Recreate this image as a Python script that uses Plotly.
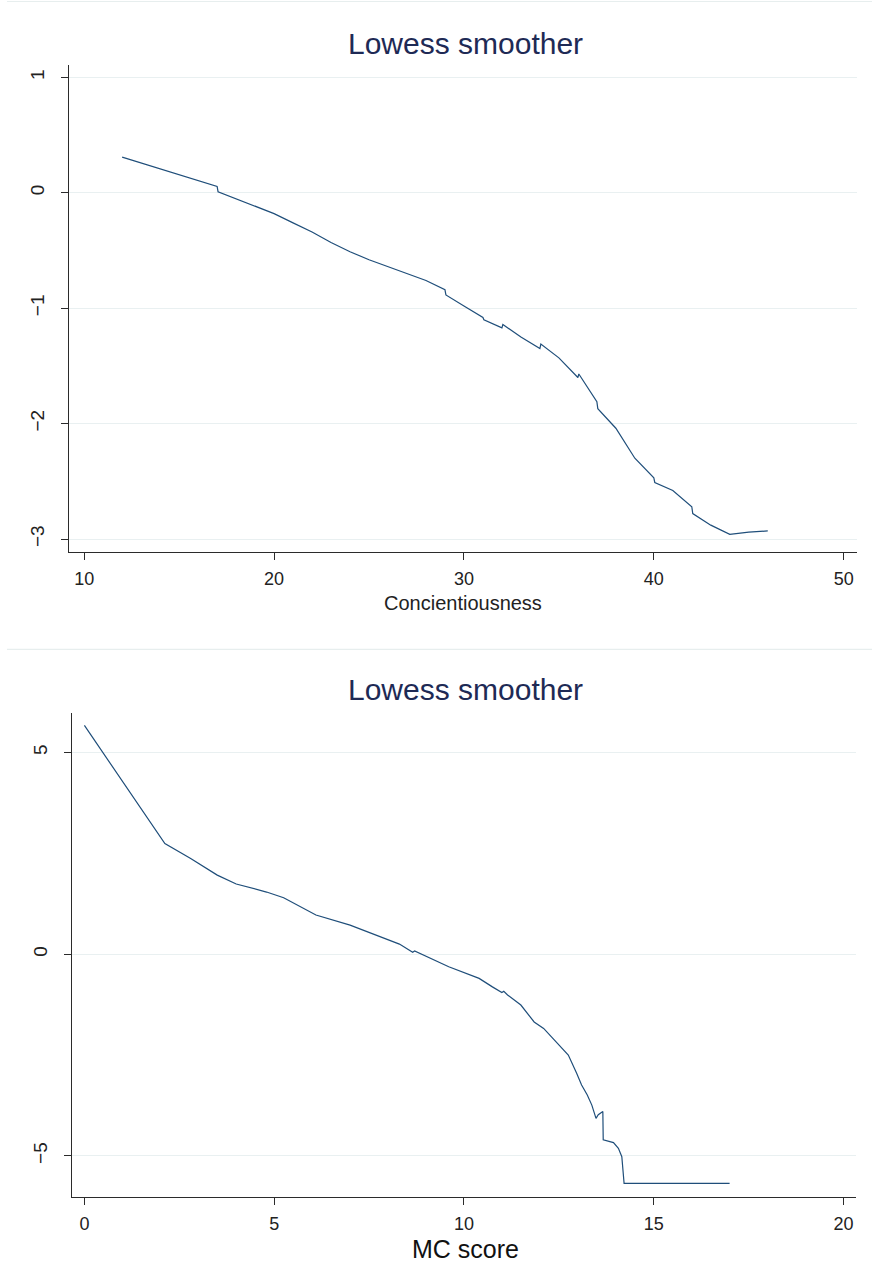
import plotly.graph_objects as go

# Lowess smoother of the outcome on Concientiousness
consc_x = [12.0, 13.0, 14.0, 15.0, 16.0, 17.0, 17.05, 18.0, 19.0, 20.0, 21.0, 22.0,
           23.0, 24.0, 25.0, 26.0, 27.0, 28.0, 29.0, 29.05, 30.0, 31.0, 31.05, 32.0,
           32.05, 33.0, 34.0, 34.05, 35.0, 36.0, 36.05, 37.0, 37.05, 38.0, 39.0,
           40.0, 40.05, 41.0, 42.0, 42.05, 43.0, 44.0, 45.0, 46.0]
consc_y = [0.31, 0.26, 0.21, 0.16, 0.11, 0.055, 0.01, -0.05, -0.11, -0.18, -0.26, -0.34,
           -0.43, -0.51, -0.58, -0.64, -0.70, -0.76, -0.84, -0.885, -0.98, -1.08, -1.10, -1.17,
           -1.14, -1.25, -1.35, -1.31, -1.43, -1.60, -1.57, -1.81, -1.87, -2.04, -2.30,
           -2.47, -2.51, -2.58, -2.72, -2.78, -2.88, -2.96, -2.94, -2.93]

# Lowess smoother of the outcome on MC score
mc_x = [0.0, 1.0, 2.12, 2.8, 3.5, 4.0, 4.8, 5.25, 6.1, 7.0, 7.9, 8.3, 8.65, 8.7,
        9.6, 10.0, 10.4, 10.75, 11.0, 11.05, 11.15, 11.5, 11.85, 12.1, 12.45, 12.75,
        12.97, 13.1, 13.25, 13.37, 13.48, 13.54, 13.66, 13.67, 13.94, 14.07, 14.16,
        14.22, 17.0]
mc_y = [5.67, 4.30, 2.74, 2.37, 1.96, 1.74, 1.54, 1.40, 0.97, 0.72, 0.39, 0.25, 0.05, 0.08,
        -0.31, -0.46, -0.60, -0.81, -0.95, -0.92, -1.01, -1.26, -1.68, -1.84, -2.21, -2.50,
        -2.95, -3.24, -3.49, -3.74, -4.07, -3.98, -3.90, -4.60, -4.67, -4.81, -5.02,
        -5.68, -5.68]

top_xticks = [10, 20, 30, 40, 50]
top_yticks = [-3, -2, -1, 0, 1]
bot_xticks = [0, 5, 10, 15, 20]
bot_yticks = [-5, 0, 5]

W, H = 872, 1283
LINE = "#1f4e7a"
TITLE = "#1e2a55"
GRID = "#e9f0f1"
FONT = "Liberation Sans, Arial, sans-serif"


def py(px):
    """Convert a pixel row (from top) to paper y."""
    return 1 - px / H


fig = go.Figure()
fig.add_trace(go.Scatter(x=consc_x, y=consc_y, mode="lines",
                         line=dict(color=LINE, width=1.2), xaxis="x", yaxis="y",
                         showlegend=False, hoverinfo="skip"))
fig.add_trace(go.Scatter(x=mc_x, y=mc_y, mode="lines",
                         line=dict(color=LINE, width=1.2), xaxis="x2", yaxis="y2",
                         showlegend=False, hoverinfo="skip"))

xcommon = dict(showgrid=False, zeroline=False, showline=True, linecolor="#2b2b2b",
               linewidth=1.4, ticks="outside", ticklen=7, tickwidth=1.2,
               tickcolor="#2b2b2b", tickfont=dict(family=FONT, size=18, color="#222"),
               ticklabelstandoff=3)
ycommon = dict(showgrid=True, gridcolor=GRID, gridwidth=1, zeroline=False,
               showline=True, linecolor="#2b2b2b", linewidth=1.4, ticks="outside",
               ticklen=7, tickwidth=1.2, tickcolor="#2b2b2b", tickangle=-90,
               tickfont=dict(family=FONT, size=19, color="#222"),
               ticklabelstandoff=9)

fig.update_layout(
    width=W, height=H,
    margin=dict(l=0, r=0, t=0, b=0),
    paper_bgcolor="white", plot_bgcolor="white",
    xaxis=dict(xcommon, domain=[69 / W, 857 / W], range=[9.2, 50.7],
               tickvals=top_xticks, anchor="y"),
    yaxis=dict(ycommon, domain=[py(551.7), py(65)], range=[-3.11, 1.108],
               tickvals=top_yticks, anchor="x"),
    xaxis2=dict(xcommon, domain=[71.7 / W, 855.6 / W], range=[-0.335, 20.32],
                tickvals=bot_xticks, anchor="y2"),
    yaxis2=dict(ycommon, domain=[py(1196.7), py(713.3)], range=[-6.01, 5.97],
                tickvals=bot_yticks, anchor="x2"),
)

annotations = [
    dict(text="Lowess smoother", x=465 / W, y=py(43), font=dict(family=FONT, size=30, color=TITLE)),
    dict(text="Concientiousness", x=463 / W, y=py(603), font=dict(family=FONT, size=20, color="#222")),
    dict(text="Lowess smoother", x=465 / W, y=py(690), font=dict(family=FONT, size=30, color=TITLE)),
    dict(text="MC score", x=465 / W, y=py(1249), font=dict(family=FONT, size=25, color="#111")),
]
for a in annotations:
    fig.add_annotation(xref="paper", yref="paper", showarrow=False,
                       xanchor="center", yanchor="middle", **a)

# Thin frame rules separating the two graphs
for row in (1.5, 649.3):
    fig.add_shape(type="line", xref="paper", yref="paper",
                  x0=7 / W, x1=1, y0=py(row), y1=py(row),
                  line=dict(color="#e7eeee", width=1.2))

fig.write_html("out.html")
